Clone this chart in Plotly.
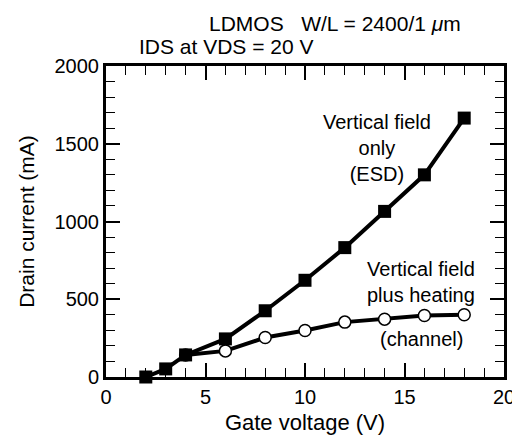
import plotly.graph_objects as go

gate_v_esd = [2, 3, 4, 6, 8, 10, 12, 14, 16, 18]
current_esd = [0, 52, 142, 245, 426, 622, 832, 1065, 1300, 1665]

gate_v_chan = [4, 6, 8, 10, 12, 14, 16, 18]
current_chan = [142, 168, 254, 299, 353, 372, 395, 400]

x_ticks = [0, 5, 10, 15, 20]
y_ticks = [0, 500, 1000, 1500, 2000]

FONT = "Liberation Sans, Arial, Helvetica, sans-serif"
FS = 20
TFS = 20

# page body has an 8px margin; compensate so the plot lands where the reference has it
OFF = 8
PL, PR, PT, PB = 106, 504, 66, 377  # plot area in window pixels

fig = go.Figure()
fig.add_trace(go.Scatter(
    x=gate_v_chan, y=current_chan, mode="lines+markers",
    line=dict(color="black", width=4),
    marker=dict(symbol="circle", size=12, color="white", line=dict(color="black", width=1.5)),
    cliponaxis=False, showlegend=False))
fig.add_trace(go.Scatter(
    x=gate_v_esd, y=current_esd, mode="lines+markers",
    line=dict(color="black", width=4),
    marker=dict(symbol="square", size=13, color="black"),
    cliponaxis=False, showlegend=False))

axis_common = dict(
    showgrid=False, zeroline=False, showline=True, linecolor="black", linewidth=3,
    mirror="ticks", ticks="inside", ticklen=14, tickwidth=1.5, tickcolor="black",
    tickfont=dict(family=FONT, size=TFS, color="black"), automargin=False,
)

fig.update_xaxes(
    range=[0, 20], tickvals=x_ticks,
    minor=dict(dtick=1, ticks="inside", ticklen=9, tickwidth=1.2, tickcolor="black"),
    title=dict(text="Gate voltage (V)", font=dict(family=FONT, size=22, color="black"), standoff=8),
    **axis_common)
fig.update_yaxes(
    range=[0, 2000], tickvals=y_ticks,
    minor=dict(dtick=100, ticks="inside", ticklen=9, tickwidth=1.2, tickcolor="black"),
    title=dict(text="Drain current (mA)", font=dict(family=FONT, size=21, color="black"), standoff=15),
    **axis_common)

W = PR - PL
H = PB - PT
ann = dict(xref="paper", yref="paper", showarrow=False,
           font=dict(family=FONT, size=FS, color="black"))
fig.add_annotation(x=(377 - PL) / W, y=(PB - 148) / H,
                   text="Vertical field<br>only<br>(ESD)", align="center",
                   xanchor="center", yanchor="middle", **ann)
fig.add_annotation(x=(421 - PL) / W, y=(PB - 282) / H,
                   text="Vertical field<br>plus heating", align="center",
                   xanchor="center", yanchor="middle", **ann)
fig.add_annotation(x=(421 - PL) / W, y=(PB - 339) / H,
                   text="(channel)", align="center",
                   xanchor="center", yanchor="middle", **ann)
ann_t = dict(ann)
ann_t["font"] = dict(family=FONT, size=21, color="black")
fig.add_annotation(x=(207 - PL) / W, y=(PB - 23) / H,
                   text="LDMOS   W/L = 2400/1 <i>μ</i>m", align="left",
                   xanchor="left", yanchor="middle", **ann_t)
fig.add_annotation(x=(137 - PL) / W, y=(PB - 47) / H,
                   text="IDS at VDS = 20 V", align="left",
                   xanchor="left", yanchor="middle", **ann_t)

FW, FH = 520 - OFF, 436 - OFF
fig.update_layout(
    width=FW, height=FH,
    margin=dict(l=PL - OFF, r=FW - (PR - OFF), t=PT - OFF, b=FH - (PB - OFF)),
    plot_bgcolor="white", paper_bgcolor="white",
    font=dict(family=FONT, size=FS, color="black"),
)

fig.write_html("out.html")
